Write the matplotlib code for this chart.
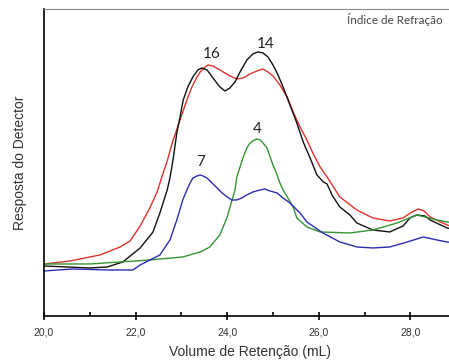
import numpy as np
import matplotlib
matplotlib.use('Agg')
import matplotlib.pyplot as plt

plt.rcParams['font.family'] = ['Liberation Sans', 'DejaVu Sans']

# retention volume (mL) and detector response (arbitrary units)
x_16 = [20.00, 20.57, 21.22, 21.66, 21.88, 22.10, 22.31, 22.47, 22.58, 22.69, 22.82,
        22.97, 23.12, 23.23, 23.34, 23.41, 23.52, 23.58, 23.69, 23.84, 24.06, 24.21,
        24.35, 24.50, 24.65, 24.78, 24.89, 25.00, 25.15, 25.31, 25.44, 25.59, 25.74,
        25.87, 26.03, 26.18, 26.46, 26.83, 27.18, 27.55, 27.84, 28.00, 28.17, 28.30,
        28.43, 28.80, 29.0]
y_16 = [52, 55, 61, 69, 75, 90, 108, 124, 140, 155, 176,
        196, 216, 229, 239, 244, 249, 251, 250, 246, 240, 237,
        238, 242, 245, 247, 244, 240, 231, 219, 204, 189, 176,
        163, 149, 139, 119, 106, 98, 95, 98, 103, 107, 105,
        99, 91, 88]

x_14 = [20.00, 21.00, 21.38, 21.72, 22.10, 22.38, 22.53, 22.69, 22.75, 22.82, 22.90,
        22.97, 23.04, 23.14, 23.25, 23.36, 23.45, 23.56, 23.69, 23.84, 23.95, 24.06,
        24.17, 24.28, 24.43, 24.56, 24.67, 24.78, 24.89, 25.00, 25.11, 25.22, 25.37,
        25.52, 25.66, 25.81, 25.96, 26.10, 26.18, 26.30, 26.46, 26.68, 26.83, 27.18,
        27.55, 27.84, 27.99, 28.14, 28.32, 28.43, 28.80, 29.0]
y_14 = [50, 48, 49, 54, 68, 84, 103, 126, 138, 157, 183,
        199, 216, 229, 239, 246, 248, 246, 238, 229, 225, 228,
        234, 244, 256, 262, 264, 263, 259, 251, 241, 229, 211,
        193, 174, 158, 141, 134, 132, 120, 109, 101, 93, 86,
        84, 90, 98, 101, 100, 96, 88, 86]

x_4 = [20.00, 21.00, 22.31, 23.03, 23.41, 23.62, 23.84, 24.00, 24.10, 24.17, 24.21,
       24.28, 24.35, 24.43, 24.50, 24.56, 24.65, 24.72, 24.78, 24.87, 24.93, 25.00,
       25.09, 25.15, 25.22, 25.44, 25.52, 25.74, 26.03, 26.68, 27.18, 27.71, 28.14,
       28.58, 28.80, 29.0]
y_4 = [52, 52, 56, 59, 64, 69, 81, 99, 115, 126, 139,
       149, 159, 168, 173, 175, 177, 176, 173, 168, 160, 151,
       141, 133, 126, 109, 98, 89, 84, 83, 86, 93, 101,
       96, 94, 93]

x_7 = [20.00, 20.63, 21.38, 21.94, 22.10, 22.53, 22.75, 22.90, 23.03, 23.12, 23.19,
       23.25, 23.34, 23.41, 23.47, 23.56, 23.67, 23.78, 23.89, 24.00, 24.10, 24.21,
       24.32, 24.43, 24.56, 24.72, 24.82, 24.93, 25.09, 25.22, 25.37, 25.59, 25.74,
       26.09, 26.46, 26.83, 27.18, 27.55, 27.93, 28.28, 28.58, 28.80, 29.0]
y_7 = [45, 47, 46, 46, 51, 61, 76, 96, 116, 126, 133,
       138, 140, 141, 140, 138, 133, 128, 123, 119, 116, 116,
       118, 121, 124, 126, 127, 125, 123, 118, 113, 103, 94,
       83, 74, 69, 68, 69, 74, 79, 76, 74, 73]

series = [(x_16, y_16, '#e0322c'), (x_14, y_14, '#111111'),
          (x_4, y_4, '#339633'), (x_7, y_7, '#2c2cb2')]

fig = plt.figure(figsize=(4.49, 3.61), dpi=100)
ax = fig.add_axes([0.098, 0.1247, 0.918, 0.8505])

for xs, ys, c in series:
    ax.plot(xs, ys, color=c, linewidth=1.0)

ax.set_xlim(20, 29)
ax.set_ylim(0, 307)

ax.set_xticks([20, 22, 24, 26, 28])
ax.set_xticklabels(['20,0', '22,0', '24,0', '26,0', '28,0'], fontsize=7.5, color='#333333')
ax.set_xticks([21, 23, 25, 27], minor=True)
ax.tick_params(axis='x', which='major', direction='inout', length=6, width=1.2, pad=5)
ax.tick_params(axis='x', which='minor', direction='in', length=3, width=1.2)
ax.set_yticks([])

ax.spines['top'].set_color('#888888')
ax.spines['top'].set_linewidth(0.8)
ax.spines['left'].set_linewidth(1.2)
ax.spines['bottom'].set_linewidth(1.2)

ax.set_xlabel('Volume de Retenção (mL)', fontsize=10, color='#333333', labelpad=6)
ax.set_ylabel('Resposta do Detector', fontsize=10, color='#333333', labelpad=12)

lab = dict(fontsize=11, family=['Lato', 'DejaVu Sans'], color='#222222', ha='center')
ax.text(23.65, 258, '16', **lab)
ax.text(24.85, 268, '14', **lab)
ax.text(24.65, 183, '4', **lab)
ax.text(23.41, 150, '7', **lab)
ax.text(26.62, 296, 'Índice de Refração', fontsize=8.4, family=['Lato', 'DejaVu Sans'],
        color='#444444', ha='left', va='center')

plt.savefig('out.png', dpi=100)
